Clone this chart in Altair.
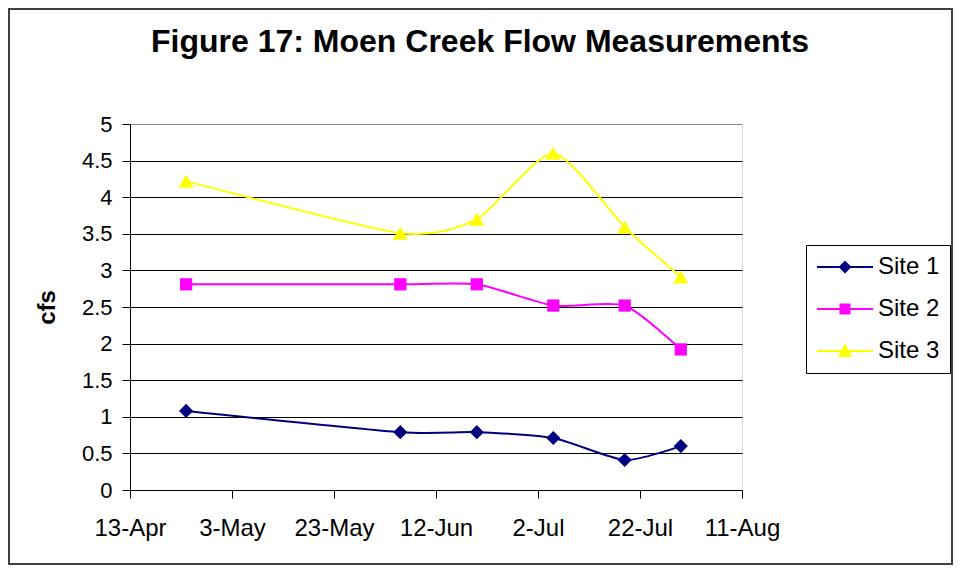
import altair as alt
import pandas as pd

# ---- data ----
sites = ["Site 1", "Site 2", "Site 3"]
dates = ["2005-04-24", "2005-06-05", "2005-06-20", "2005-07-05", "2005-07-19", "2005-07-30"]
site1 = [1.08, 0.79, 0.79, 0.71, 0.41, 0.60]
site2 = [2.81, 2.81, 2.81, 2.52, 2.52, 1.92]
site3 = [4.22, 3.51, 3.70, 4.60, 3.59, 2.91]
tick_dates = [(2005, 4, 13), (2005, 5, 3), (2005, 5, 23), (2005, 6, 12),
              (2005, 7, 2), (2005, 7, 22), (2005, 8, 11)]
y_ticks = [0, 0.5, 1, 1.5, 2, 2.5, 3, 3.5, 4, 4.5, 5]
title_text = "Figure 17: Moen Creek Flow Measurements"

colors = ["#000080", "#FF00FF", "#FFFF00"]
marker_shapes = ["diamond", "square", "triangle-up"]
marker_sizes = [200, 150, 230]
# legend symbols: a line with the marker on it (unit = 5 px at symbolSize 100)
legend_paths = [
    "M-5.6,-0.2H5.6V0.2H-5.6Z M0,-1.3L1.3,0L0,1.3L-1.3,0Z",
    "M-5.6,-0.2H5.6V0.2H-5.6Z M-1.1,-1.1H1.1V1.1H-1.1Z",
    "M-5.6,-0.2H5.6V0.2H-5.6Z M0,-1.5L1.5,1.2L-1.5,1.2Z",
]

rows = []
for s, vals in zip(sites, [site1, site2, site3]):
    for d, v in zip(dates, vals):
        rows.append({"date": d, "cfs": v, "site": s})
df = pd.DataFrame(rows)

FONT = "Liberation Sans"

def dt(t):
    return alt.DateTime(year=t[0], month=t[1], date=t[2], utc=True)

x_enc = alt.X(
    "date:T",
    scale=alt.Scale(type="utc", domain=[dt(tick_dates[0]), dt(tick_dates[-1])]),
    axis=alt.Axis(
        values=[dt(t) for t in tick_dates], format="%-d-%b", title=None,
        grid=False, domainColor="black", domainWidth=1, tickColor="black",
        tickSize=8, labelPadding=18, labelFontSize=24, labelColor="black",
        labelFont=FONT, labelFlush=False, labelOverlap=False,
    ),
)
y_enc = alt.Y(
    "cfs:Q",
    scale=alt.Scale(domain=[0, 5], nice=False, zero=True),
    axis=alt.Axis(
        values=y_ticks, format="~g", title="cfs", titleFontSize=24,
        titleFont=FONT, titleFontWeight="bold", titleColor="black",
        titleAngle=270, titleX=-83, titleY=183, titleAlign="center",
        titleBaseline="middle",
        grid=True,
        gridColor={"condition": {"test": "datum.value === 5", "value": "#888888"}, "value": "black"},
        gridWidth=1, domainColor="black", tickColor="black", tickSize=8,
        labelPadding=10, labelFontSize=22, labelColor="black", labelFont=FONT,
        labelFlush=False, labelOverlap=False,
    ),
)
color_scale = alt.Scale(domain=sites, range=colors)

line_layers = []
point_layers = []
for s, c, shp, sz in zip(sites, colors, marker_shapes, marker_sizes):
    base = alt.Chart(df).transform_filter(alt.datum.site == s)
    line_layers.append(
        base.mark_line(strokeWidth=2, interpolate="cardinal", tension=0.35, color=c)
        .encode(x=x_enc, y=y_enc)
    )
    point_layers.append(
        base.mark_point(filled=True, opacity=1, shape=shp, size=sz, color=c, strokeWidth=0)
        .encode(x=x_enc, y=y_enc)
    )

leg = dict(
    title=None, orient="none", legendX=676, legendY=121,
    strokeColor="black", fillColor="white", padding=10,
    symbolSize=100, symbolOffset=17, labelOffset=21, rowPadding=18,
    labelFontSize=24, labelFont=FONT, labelColor="black",
    symbolStrokeWidth=0, symbolOpacity=1,
)
legend_layer = alt.Chart(df).mark_point(
    filled=True, opacity=0, strokeWidth=0
).encode(
    x=x_enc, y=y_enc,
    color=alt.Color("site:N", scale=color_scale, legend=alt.Legend(**leg)),
    shape=alt.Shape("site:N", scale=alt.Scale(domain=sites, range=legend_paths),
                    legend=alt.Legend(**leg)),
)

title_layer = alt.Chart(alt.Data(values=[{"t": title_text}])).mark_text(
    font=FONT, fontSize=32, fontWeight="bold", color="black",
    align="center", baseline="alphabetic",
).encode(x=alt.value(350), y=alt.value(-72), text="t:N")

border = alt.Chart(alt.Data(values=[{"k": 1}])).mark_rect(
    filled=False, stroke="#404040", strokeWidth=2
).encode(
    x=alt.value(-121), x2=alt.value(822), y=alt.value(-115), y2=alt.value(440)
)

chart = alt.layer(*line_layers, *point_layers, legend_layer, title_layer, border).properties(
    width=612, height=366,
    autosize=alt.AutoSizeParams(type="none"),
    padding={"left": 122, "top": 116, "right": 211, "bottom": 75},
).configure_view(stroke="#888888", strokeWidth=1).configure(
    background="white", font=FONT
)

chart.save("out.html", embed_options={"renderer": "svg", "actions": False})
